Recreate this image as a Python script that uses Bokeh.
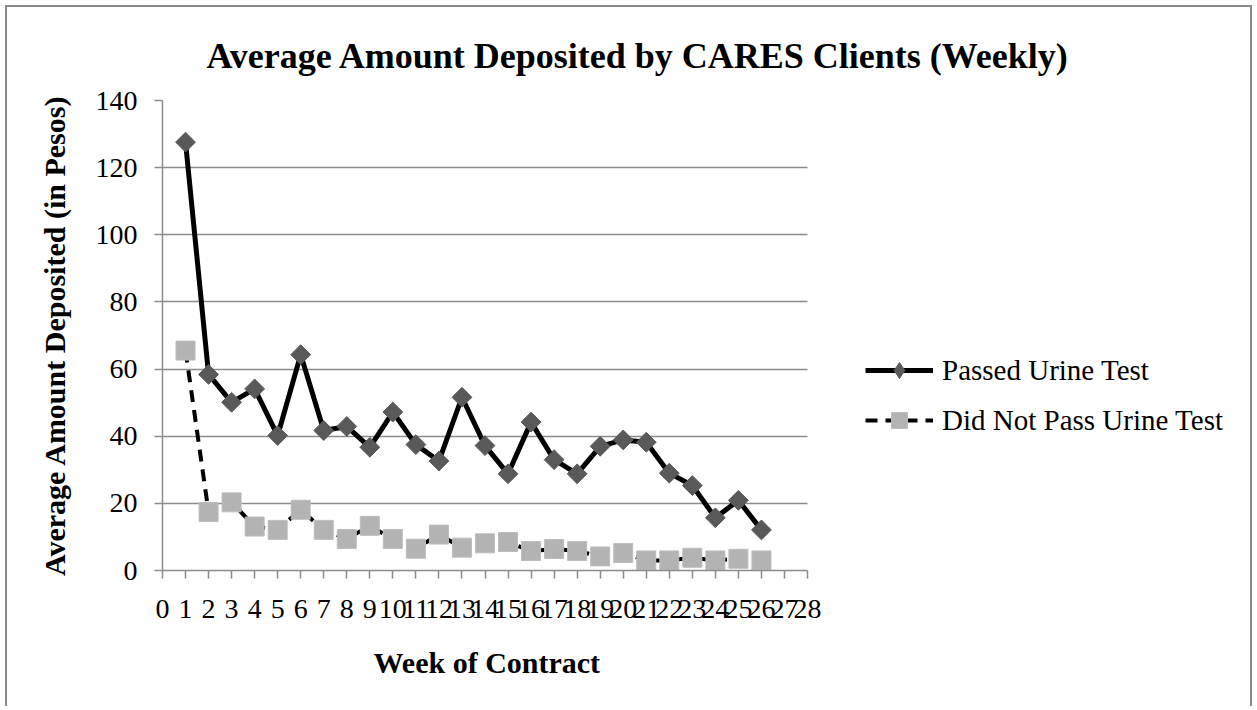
from bokeh.plotting import figure
from bokeh.models import Range1d, FixedTicker, Legend, LegendItem, Title
from bokeh.embed import file_html
from bokeh.resources import INLINE
import math

weeks = list(range(1, 27))
passed = [127.6, 58.4, 50.1, 54.1, 40.2, 64.3, 41.7, 42.9, 36.7, 47.2, 37.5, 32.6, 51.6,
          37.2, 28.8, 44.2, 33.0, 28.8, 37.0, 38.9, 38.2, 29.0, 25.3, 15.7, 20.9, 12.1]
not_passed = [65.5, 17.4, 20.3, 13.1, 12.1, 18.1, 12.1, 9.4, 13.3, 9.4, 6.5, 10.7, 6.8,
              8.1, 8.5, 5.8, 6.4, 5.8, 4.2, 5.2, 3.0, 3.0, 3.8, 3.0, 3.5, 3.0]
x_ticks = list(range(0, 29))
y_ticks = [0, 20, 40, 60, 80, 100, 120, 140]

SERIF = "Liberation Serif"
GRID = "#8c8c8c"

# layout (pixels)
W, H = 1247, 701
LEFT, TOP, BOTTOM, RIGHT = 155, 93, 138, 11
AXIS_PX = 645  # width of the 0..28 week axis
frame_w = W - LEFT - RIGHT
x_end = x_ticks[-1] * frame_w / AXIS_PX

p = figure(width=W, height=H, output_backend="svg", toolbar_location=None,
           x_range=Range1d(0, x_end), y_range=Range1d(0, 140),
           min_border_left=LEFT, min_border_right=RIGHT, min_border_top=TOP,
           min_border_bottom=BOTTOM)
p.outline_line_color = None
p.background_fill_color = "white"
p.border_fill_color = "white"
p.styles = {"border-top": "2px solid #8a8a8a", "border-left": "2px solid #8a8a8a",
            "border-right": "2px solid #8a8a8a", "margin": "5px 0 0 5px"}

p.title = Title(text="Average Amount Deposited by CARES Clients (Weekly)", align="left",
                text_font=SERIF, text_font_size="36px", text_font_style="bold",
                text_color="black", offset=44, standoff=49)

p.xaxis.ticker = FixedTicker(ticks=x_ticks)
p.yaxis.ticker = FixedTicker(ticks=y_ticks)
p.xaxis.bounds = (x_ticks[0], x_ticks[-1])
p.xgrid.grid_line_color = None
p.ygrid.grid_line_color = GRID
p.ygrid.grid_line_width = 1.5
p.ygrid.cross_bounds = (x_ticks[0], x_ticks[-1])
for ax in (p.xaxis, p.yaxis):
    ax.axis_line_color = GRID
    ax.axis_line_width = 1.5
    ax.major_tick_line_color = GRID
    ax.major_tick_line_width = 1.5
    ax.major_tick_in = 0
    ax.major_tick_out = 8
    ax.minor_tick_line_color = None
    ax.major_label_text_font = SERIF
    ax.major_label_text_font_size = "28px"
    ax.major_label_text_color = "black"
    ax.axis_label_text_font = SERIF
    ax.axis_label_text_font_size = "30px"
    ax.axis_label_text_font_style = "bold"
    ax.axis_label_text_color = "black"
p.yaxis.axis_label = "Average Amount Deposited (in Pesos)"
p.xaxis.major_label_standoff = 21
p.yaxis.major_label_standoff = 17
p.yaxis.axis_label_standoff = 22

# x axis title, centred under the 0..28 axis
p.add_layout(Title(text="Week of Contract", align="left", offset=211, standoff=46,
                   text_font=SERIF, text_font_size="30px", text_font_style="bold",
                   text_color="black"), "below")

l2 = p.line(weeks, not_passed, line_color="black", line_width=4, line_dash="12 8")
s2 = p.scatter(weeks, not_passed, marker="square", size=19, fill_color="#b3b3b3",
               line_color="#bdbdbd", line_width=1)
l1 = p.line(weeks, passed, line_color="black", line_width=5)
s1 = p.scatter(weeks, passed, marker="square", size=14, angle=math.pi / 4,
               fill_color="#595959", line_color="#595959", line_width=1)
# legend-only glyphs (hidden in the plot area)
proxy = p.scatter(weeks, passed, marker="diamond", size=19,
                  fill_color="#595959", line_color="#595959", visible=False)
proxy_sq = p.scatter(weeks, not_passed, marker="square", size=16,
                     fill_color="#b3b3b3", line_color="#bdbdbd", visible=False)

legend = Legend(items=[LegendItem(label="Passed Urine Test", renderers=[l1, proxy]),
                       LegendItem(label="Did Not Pass Urine Test", renderers=[l2, proxy_sq])],
                location=(703, 130), orientation="vertical",
                label_text_font=SERIF, label_text_font_size="29px", label_text_color="black",
                glyph_width=68, glyph_height=40, label_height=26, spacing=10,
                label_standoff=9, padding=0, margin=0,
                border_line_color=None, background_fill_alpha=0,
                inactive_fill_alpha=0)
p.add_layout(legend, "center")

open("out.html", "w").write(file_html(p, INLINE))
